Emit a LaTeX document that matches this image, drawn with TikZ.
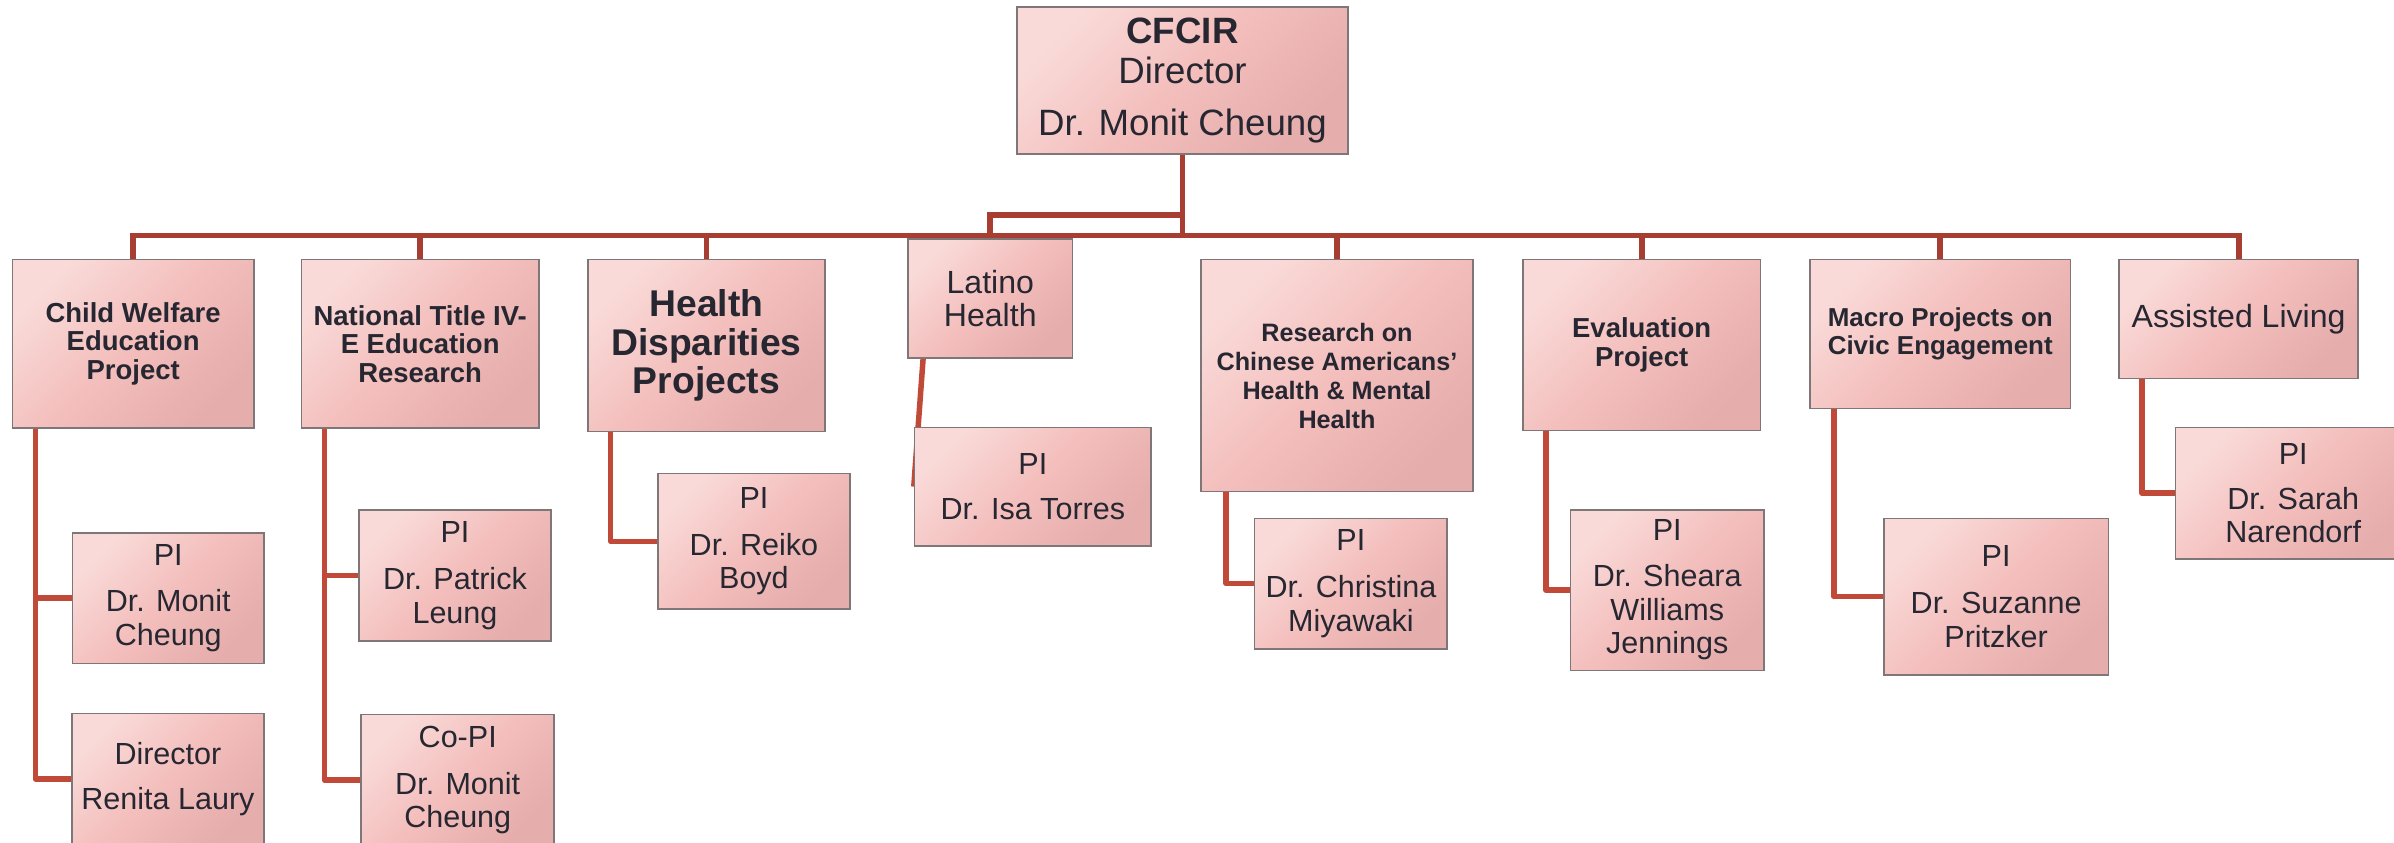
\documentclass[tikz,border=0pt]{standalone}
\usepackage{fontspec}
\setmainfont{Liberation Sans}
\usepackage{tikz}
\usetikzlibrary{backgrounds}

\definecolor{boxtop}{HTML}{F9DAD8}
\definecolor{boxmid}{HTML}{F3BEBC}
\definecolor{boxbot}{HTML}{E5ADAC}
\definecolor{boxedge}{HTML}{7F7777}
\definecolor{ink}{HTML}{272732}
\definecolor{busred}{HTML}{A73E31}
\definecolor{linkred}{HTML}{C04A37}

\begin{document}
\begin{tikzpicture}[
x=1pt, y=-1pt,
box/.style={rectangle, draw=boxedge, line width=1pt, top color=boxtop, bottom color=boxbot, middle color=boxmid, shading angle=45, inner sep=0pt, align=center, text=ink},
head/.style={box, font=\fontsize{24}{26.2}\selectfont},
unit/.style={box, font=\bfseries\fontsize{18}{18.7}\selectfont},
plain/.style={box, font=\fontsize{21}{21.5}\selectfont},
staff/.style={box, font=\fontsize{20}{22}\selectfont},
bus/.style={draw=busred, line width=3.8pt},
link/.style={draw=linkred, line width=3.6pt, line join=round}
]
\useasboundingbox (0,0) rectangle (1568,552);
\clip (0,0) rectangle (1568,552);

% director
\node[head, minimum width=217pt, minimum height=96pt] (cfcir) at (774.5,52.7) {\textbf{CFCIR}\\Director\\[8pt]Dr. Monit Cheung};

% projects
\node[unit, minimum width=158pt, minimum height=110.5pt] (cw) at (87.2,225.2) {Child Welfare\\Education\\Project};
\node[unit, minimum width=155.5pt, minimum height=110.5pt] (nt) at (275.2,225.2) {National Title IV-\\E Education\\Research};
\node[unit, minimum width=155.5pt, minimum height=112.6pt, font=\bfseries\fontsize{24.4}{25.2}\selectfont] (hd) at (462.7,226.3) {Health\\Disparities\\Projects};
\node[plain, minimum width=108pt, minimum height=78pt] (lh) at (648.6,195.5) {Latino\\Health};
\node[unit, minimum width=178.2pt, minimum height=152pt, font=\bfseries\fontsize{16.5}{19}\selectfont] (ca) at (875.7,246) {Research on\\Chinese Americans’\\Health \& Mental\\Health};
\node[unit, minimum width=155.5pt, minimum height=112pt] (ev) at (1075.2,226) {Evaluation\\Project};
\node[unit, minimum width=170.4pt, minimum height=97.5pt, font=\bfseries\fontsize{17}{18}\selectfont] (mp) at (1270.8,218.7) {Macro Projects on\\Civic Engagement};
\node[plain, minimum width=156.5pt, minimum height=77.8pt] (al) at (1466.2,208.9) {Assisted Living};

% staff
\node[staff, minimum width=125.6pt, minimum height=85.5pt] (cwpi) at (110.2,391.7) {PI\\[8.5pt]Dr. Monit\\Cheung};
\node[staff, minimum width=126pt, minimum height=85.5pt] (cwdir) at (110,510.2) {Director\\[7.6pt]Renita Laury};
\node[staff, minimum width=126pt, minimum height=86pt] (ntpi) at (298,377) {PI\\[8.5pt]Dr. Patrick\\Leung};
\node[staff, minimum width=126.4pt, minimum height=86pt] (ntco) at (299.8,511) {Co-PI\\[8.5pt]Dr. Monit\\Cheung};
\node[staff, minimum width=126pt, minimum height=89pt] (hdpi) at (493.8,354.5) {PI\\[8.5pt]Dr. Reiko\\Boyd};
\node[staff, minimum width=155pt, minimum height=77.5pt] (lhpi) at (676.5,318.7) {PI\\[8pt]Dr. Isa Torres};
\node[staff, minimum width=126pt, minimum height=85.3pt] (capi) at (884.8,382.3) {PI\\[8.5pt]Dr. Christina\\Miyawaki};
\node[staff, minimum width=127pt, minimum height=105pt] (evpi) at (1092,386.5) {PI\\[8pt]Dr. Sheara\\Williams\\Jennings};
\node[staff, minimum width=147.2pt, minimum height=102.3pt] (mppi) at (1307.4,390.8) {PI\\[8.5pt]Dr. Suzanne\\Pritzker};
\node[staff, minimum width=154pt, minimum height=86pt] (alpi) at (1502,323) {PI\\[7.5pt]Dr. Sarah\\Narendorf};

\coordinate (bus) at (774.5,154.3);
\coordinate (fork) at (774.5,141);

\begin{pgfonlayer}{background}
% main bus
\draw[bus] (cw.north) |- (bus) -| (al.north);
\draw[bus] (cfcir.south) -- (cfcir.south |- bus);
\draw[bus] (fork) -| (lh.north);
\draw[bus] (nt.north) -- (nt.north |- bus);
\draw[bus] (hd.north) -- (hd.north |- bus);
\draw[bus] (ca.north) -- (ca.north |- bus);
\draw[bus] (ev.north) -- (ev.north |- bus);
\draw[bus] (mp.north) -- (mp.north |- bus);

% project to staff
\draw[link] ([xshift=15.5pt]cw.south west) |- (cwpi.west);
\draw[link] ([xshift=15.5pt]cw.south west) |- (cwdir.west);
\draw[link] ([xshift=15.5pt]nt.south west) |- (ntpi.west);
\draw[link] ([xshift=15.5pt]nt.south west) |- (ntco.west);
\draw[link] ([xshift=15.5pt]hd.south west) |- (hdpi.west);
\draw[link] ([xshift=10.5pt]lh.south west) -- (lhpi.west);
\draw[link] ([xshift=17pt]ca.south west) |- (capi.west);
\draw[link] ([xshift=15.5pt]ev.south west) |- (evpi.west);
\draw[link] ([xshift=16pt]mp.south west) |- (mppi.west);
\draw[link] ([xshift=15.5pt]al.south west) |- (alpi.west);
\end{pgfonlayer}

\end{tikzpicture}
\end{document}
